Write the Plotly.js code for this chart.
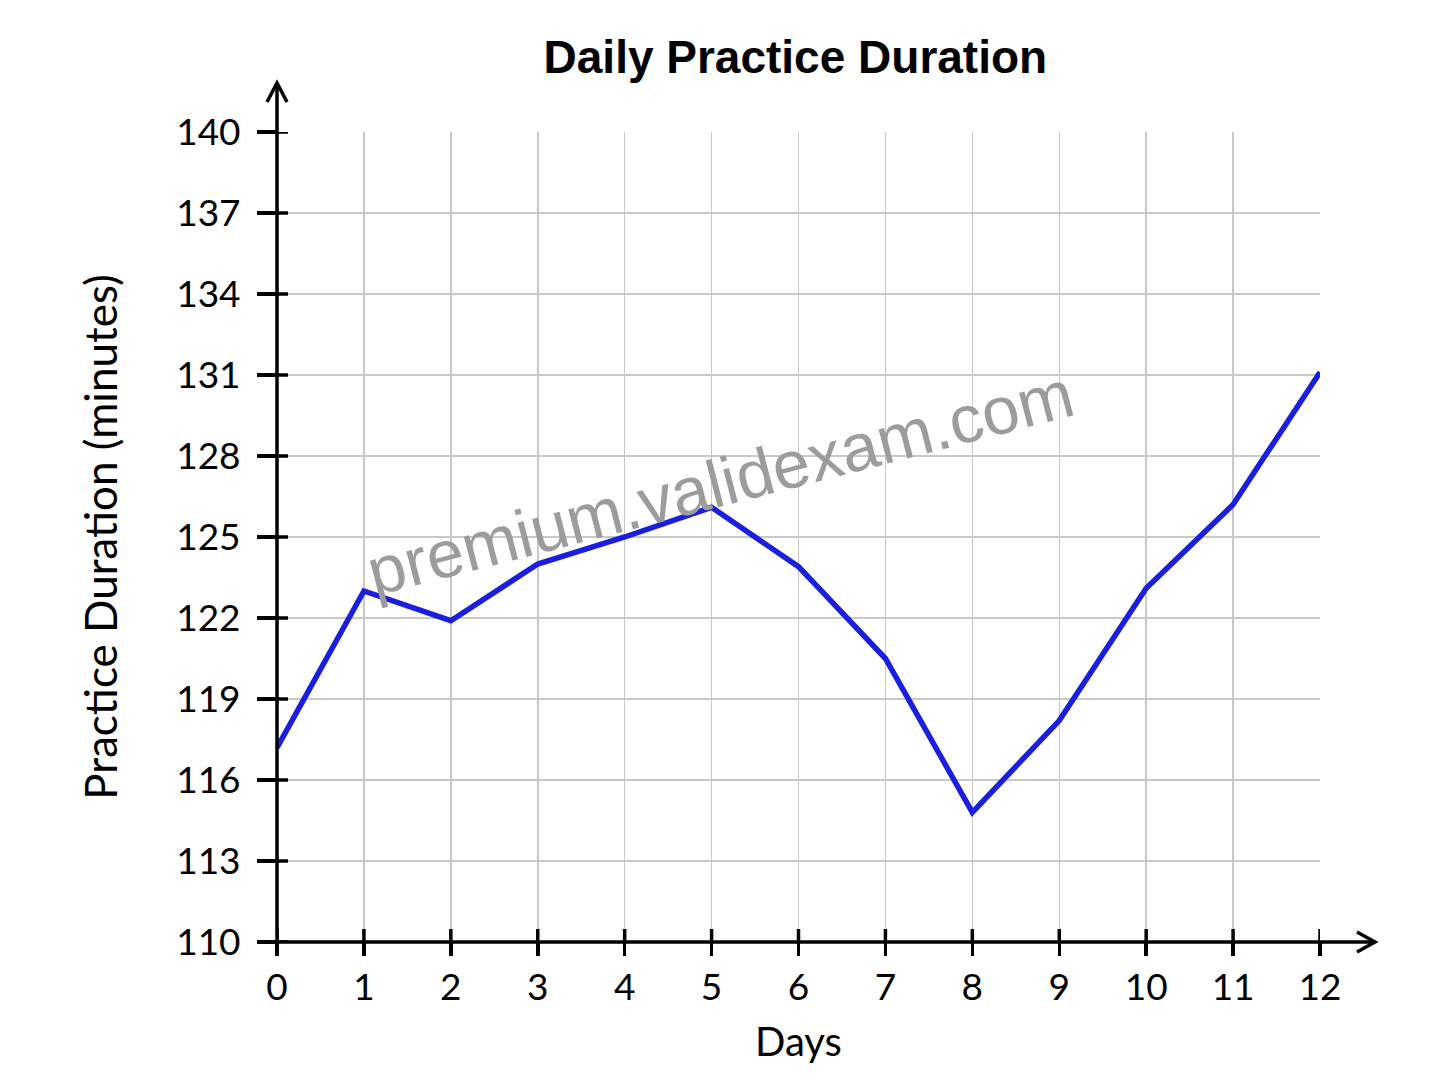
<!DOCTYPE html>
<html>
<head>
<meta charset="utf-8">
<script src="https://cdn.plot.ly/plotly-3.0.1.min.js"></script>
<style>html,body{margin:0;padding:0;background:#fff;}#chart{width:1448px;height:1086px;}</style>
</head>
<body>
<div id="chart"></div>
<script>
const days = [0, 1, 2, 3, 4, 5, 6, 7, 8, 9, 10, 11, 12];
const minutes = [117.2, 123.0, 121.9, 124.0, 125.0, 126.1, 123.9, 120.5, 114.8, 118.2, 123.1, 126.2, 131.1];
const xTickVals = [0, 1, 2, 3, 4, 5, 6, 7, 8, 9, 10, 11, 12];
const yTickVals = [110, 113, 116, 119, 122, 125, 128, 131, 134, 137, 140];
const chartTitle = 'Daily Practice Duration';
const xTitle = 'Days';
const yTitle = 'Practice Duration (minutes)';
const watermark = 'premium.validexam.com';

const W = 1448, H = 1086;
const M = {l: 277, r: 128, t: 132, b: 144};
const PW = W - M.l - M.r, PH = H - M.t - M.b;
const px = d => d / PW;   // pixels -> paper x
const py = d => d / PH;   // pixels -> paper y

const axisStyle = {color: '#000', width: 3.5};
const shapes = [];
// extended axis lines
shapes.push({type: 'line', xref: 'paper', yref: 'paper', x0: px(-16), x1: px(PW + 55), y0: 0, y1: 0, line: axisStyle});
shapes.push({type: 'line', xref: 'paper', yref: 'paper', x0: 0, x1: 0, y0: py(-13), y1: py(PH + 49), line: axisStyle});
// arrowheads (open chevrons)
shapes.push({type: 'path', xref: 'paper', yref: 'paper',
  path: `M ${px(PW + 37)} ${py(10)} L ${px(PW + 55)} 0 L ${px(PW + 37)} ${py(-10)}`,
  line: axisStyle});
shapes.push({type: 'path', xref: 'paper', yref: 'paper',
  path: `M ${px(-10)} ${py(PH + 30)} L 0 ${py(PH + 49)} L ${px(10)} ${py(PH + 30)}`,
  line: axisStyle});
// inner halves of the crossing tick marks
xTickVals.forEach(v => shapes.push({type: 'line', xref: 'x', yref: 'paper', x0: v, x1: v, y0: 0, y1: py(13), line: {color: '#000', width: 3.5}}));
yTickVals.forEach(v => shapes.push({type: 'line', xref: 'paper', yref: 'y', x0: 0, x1: px(11), y0: v, y1: v, line: {color: '#000', width: 3.5}}));

const tickFont = {family: 'Lato, "Open Sans", sans-serif', size: 37, color: '#000'};
const titleFont = {family: 'Lato, "Open Sans", sans-serif', size: 44, color: '#000'};

const trace = {
  x: days, y: minutes, type: 'scatter', mode: 'lines',
  line: {color: '#1a1ee0', width: 5.5},
  hoverinfo: 'x+y'
};

const layout = {
  width: W, height: H,
  margin: M,
  paper_bgcolor: '#fff', plot_bgcolor: '#fff',
  showlegend: false,
  title: {text: chartTitle, x: 0.497, xref: 'paper', xanchor: 'center', y: 1 - 57 / H, yref: 'container', yanchor: 'middle',
    font: {family: '"Liberation Sans", Arial, sans-serif', size: 46, color: '#000', weight: 'bold'}},
  xaxis: {
    range: [0, 12], tickvals: xTickVals, ticktext: xTickVals.map(String),
    ticks: 'outside', ticklen: 13, tickwidth: 3.5, tickcolor: '#000', ticklabelstandoff: 0,
    showgrid: true, gridcolor: '#c8c8c8', gridwidth: 1.5, zeroline: false, showline: false,
    tickfont: tickFont,
    title: {text: xTitle, font: {family: titleFont.family, size: 40, color: '#000'}, standoff: 20}
  },
  yaxis: {
    range: [110, 140], tickvals: yTickVals, ticktext: yTickVals.map(String),
    ticks: 'outside', ticklen: 19, tickwidth: 3.5, tickcolor: '#000', ticklabelstandoff: 9,
    showgrid: true, gridcolor: '#c8c8c8', gridwidth: 1.5, zeroline: false, showline: false,
    tickfont: tickFont,
    title: {text: yTitle, font: titleFont, standoff: 44}
  },
  shapes: shapes,
  annotations: [{
    text: watermark, xref: 'paper', yref: 'paper', x: px(720 - M.l), y: py(H - M.b - 482),
    xanchor: 'center', yanchor: 'middle', showarrow: false, textangle: -14.5,
    font: {family: '"Liberation Sans", Arial, sans-serif', size: 67, color: '#9c9c9c'}
  }]
};

Plotly.newPlot('chart', [trace], layout, {displayModeBar: false, staticPlot: true});
</script>
</body>
</html>
